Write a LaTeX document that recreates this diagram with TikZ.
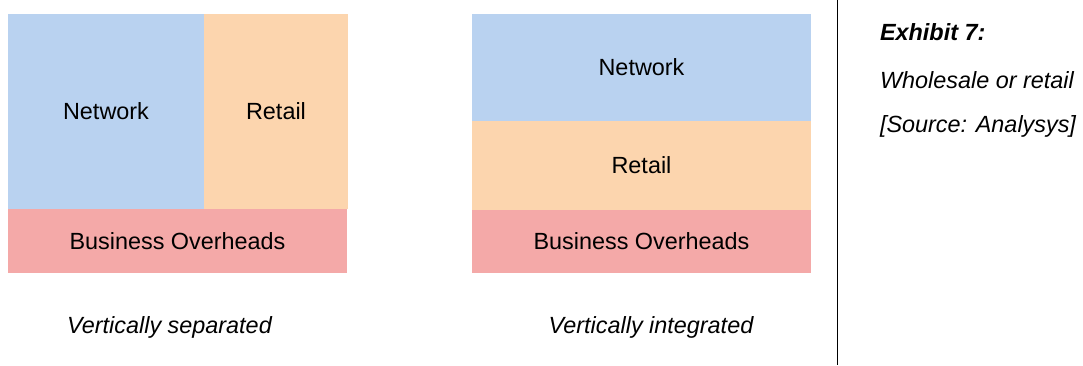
\documentclass[tikz,border=0pt]{standalone}
\usepackage{fontspec}
\setmainfont{Liberation Sans}
\usetikzlibrary{positioning}
\definecolor{netblue}{HTML}{B9D2F0}
\definecolor{retorange}{HTML}{FCD5AE}
\definecolor{ohpink}{HTML}{F4A9A8}
\tikzset{
  block/.style={inner sep=0pt,outer sep=0pt,anchor=north west,font=\fontsize{11.7}{14}\selectfont},
  caption/.style={font=\fontsize{11.7}{14}\selectfont\itshape}
}
\begin{document}
\begin{tikzpicture}[x=.5pt,y=-.5pt]
\useasboundingbox (0,0) rectangle (1083,365);
% separated: network and retail side by side
\node[block,fill=netblue,minimum width=98pt,minimum height=97.5pt] (sepnet) at (8,14){Network};
\node[block,fill=retorange,minimum width=72pt,minimum height=97.5pt,right=0pt of sepnet] (sepret){Retail};
\node[block,fill=ohpink,minimum width=169.5pt,minimum height=32pt,below=0pt of sepnet.south west,anchor=north west] (sepoh){Business Overheads};
% integrated: stacked
\node[block,fill=netblue,minimum width=169.5pt,minimum height=53.5pt] (intnet) at (472,14){Network};
\node[block,fill=retorange,minimum width=169.5pt,minimum height=44.5pt,below=0pt of intnet.south west,anchor=north west] (intret){Retail};
\node[block,fill=ohpink,minimum width=169.5pt,minimum height=31.5pt,below=0pt of intret.south west,anchor=north west] (intoh){Business Overheads};
\node[caption] (sepcap) at (169.5,327){Vertically separated};
\node[caption] (intcap) at (651,327){Vertically integrated};
% side bar
\coordinate (bartop) at (837,0);
\coordinate (barbot) at (837,365);
\draw[line width=.5pt] (bartop)--(barbot);
\node[caption,anchor=base west,font=\fontsize{11.7}{14}\selectfont\bfseries\itshape] (exh) at (873,40){Exhibit 7:};
\node[caption,anchor=base west] (title) at (873,88){Wholesale or retail};
\node[caption,anchor=base west] (src) at (873,132){[Source: Analysys]};
\end{tikzpicture}
\end{document}
